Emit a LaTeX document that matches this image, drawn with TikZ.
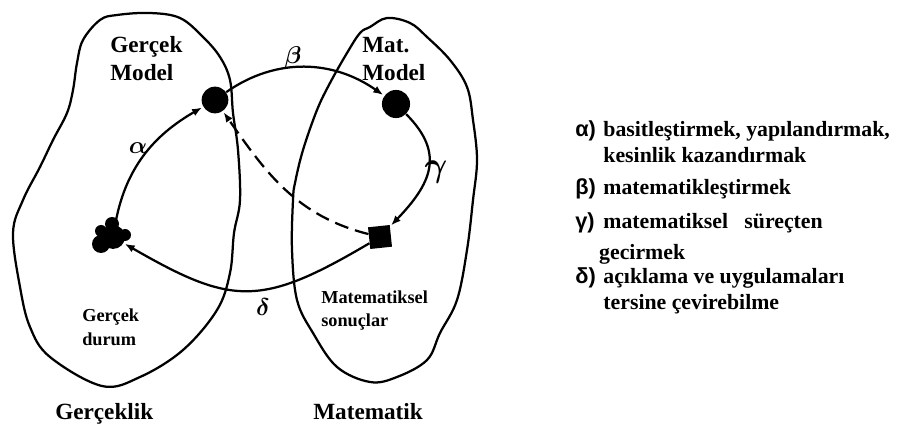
\documentclass[tikz,border=0pt]{standalone}
\usepackage{fontspec}
\setmainfont{Liberation Serif}
\newfontfamily\harf{Liberation Sans}
\usetikzlibrary{arrows.meta}

\begin{document}
\begin{tikzpicture}[x=0.025cm, y=0.025cm,
    nokta/.style={circle, fill=black, inner sep=0pt, minimum size=19pt},
    kare/.style={rectangle, fill=black, inner sep=0pt, minimum size=15.5pt, rotate=6},
    baslik/.style={font=\fontsize{16.5}{20.5}\selectfont\bfseries, align=left, inner sep=0pt, anchor=base west},
    kucuk/.style={font=\fontsize{13}{16.5}\selectfont\bfseries, align=left, inner sep=0pt, anchor=base west},
    harfetiket/.style={font=\fontsize{19}{22}\selectfont\boldmath},
    aciklama/.style={font=\fontsize{15.5}{18.5}\selectfont\bfseries, align=left, inner sep=0pt, anchor=base west},
    ok/.style={line width=1.6pt, -{Latex[length=7pt,width=5.5pt]}, shorten >=1pt},
    bolge/.style={line width=1.6pt, line join=round}]
    \useasboundingbox (0,0) rectangle (905,427);

    % Gerçeklik
    \draw[bolge] plot[smooth cycle, tension=0.6] coordinates {
        (117,412) (150,414) (180,409) (203,390) (220,370) (230,347) (233,314)
        (238,277) (240,227) (234,194) (230,154) (217,117) (183,77) (140,50)
        (102,41) (50,70) (30,100) (20,140) (13,194) (23,227) (40,260)
        (53,287) (67,314) (73,337) (77,364) (83,387) (100,407)};

    % Matematik
    \draw[bolge] plot[smooth cycle, tension=0.6] coordinates {
        (370,400) (387,409) (410,404) (427,390) (450,367) (467,340) (473,307)
        (477,267) (473,227) (467,177) (457,127) (440,94) (427,67) (397,50)
        (370,45) (337,60) (313,94) (297,127) (292,177) (293,227) (295,244)
        (303,277) (317,317) (330,344) (347,374) (360,394)};

    % Durumlar
    \node[nokta] (gm) at (215,327) {};
    \node[nokta, minimum size=20pt] (mm) at (396,323) {};
    \node[kare] (sonuc) at (380,190) {};
    \node[circle, fill=black, inner sep=0pt, minimum size=17pt] (durum) at (113,190) {};
    \fill (112,203) circle (7);
    \fill (101,183) circle (9);
    \fill (125,192) circle (6);
    \fill (101,196) circle (6);

    % Oklar
    \draw[ok] (durum) to[out=80, in=210] (gm);
    \draw[ok] (gm) to[out=35, in=145] (mm);
    \draw[ok] (mm) to[out=-45, in=45, looseness=1.3] (sonuc);
    \draw[ok] (sonuc) to[out=210, in=-30, looseness=1.3] (durum);
    \draw[ok, dash pattern=on 10pt off 5pt] (sonuc) to[out=165, in=-55] (gm);

    \node[harfetiket] (alfa) at (138,279) {$\alpha$};
    \node[harfetiket] (beta) at (293,370) {$\beta$};
    \node[harfetiket, font=\fontsize{24}{26}\selectfont\boldmath] (gama) at (436,255) {$\gamma$};
    \node[harfetiket] (delta) at (263,120) {$\delta$};

    % Yazilar
    \node[baslik] (gmyazi) at (110,346) {Gerçek\\Model};
    \node[baslik] (mmyazi) at (362,346) {Mat.\\Model};
    \node[kucuk] (gdyazi) at (82,82) {Gerçek\\durum};
    \node[kucuk] (msyazi) at (321,100) {Matematiksel\\sonuçlar};
    \node[baslik] (gerceklik) at (55,8) {Gerçeklik};
    \node[baslik] (matematik) at (313,8) {Matematik};

    % Aciklamalar
    \node[aciklama] (la) at (575,264) {\makebox[20pt][l]{\harf α)}basitleştirmek, yapılandırmak,\\\hspace*{20pt}kesinlik kazandırmak};
    \node[aciklama] (lb) at (575,232) {\makebox[20pt][l]{\harf β)}matematikleştirmek};
    \node[aciklama] (lg) at (575,167) {\makebox[20pt][l]{\harf γ)}matematiksel\ \ \ süreçten\\[4pt]\hspace*{17pt}gecirmek};
    \node[aciklama] (ld) at (575,117) {\makebox[20pt][l]{\harf δ)}açıklama ve uygulamaları\\\hspace*{20pt}tersine çevirebilme};
\end{tikzpicture}
\end{document}
